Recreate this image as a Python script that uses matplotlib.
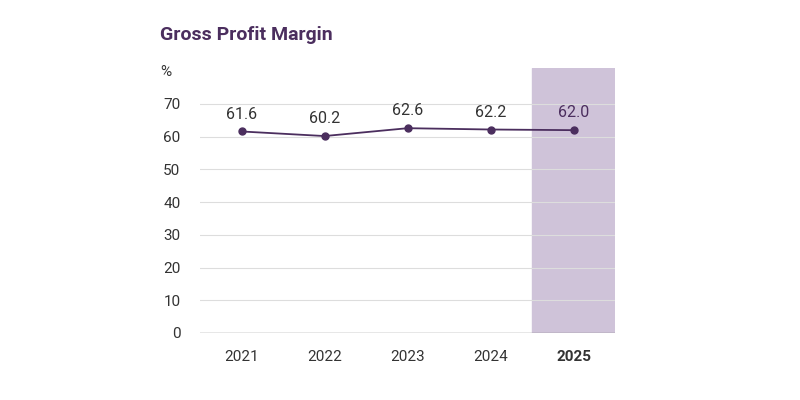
import matplotlib
matplotlib.use("Agg")
import matplotlib.pyplot as plt

years = ["2021", "2022", "2023", "2024", "2025"]
margin = [61.6, 60.2, 62.6, 62.2, 62.0]
yticks = [0, 10, 20, 30, 40, 50, 60, 70]

plt.rcParams['font.family'] = ['Roboto', 'DejaVu Sans']
fig = plt.figure(figsize=(8, 4), dpi=100)
ax = fig.add_axes([0.25, 0.1675, 0.519, 0.6625])
x = list(range(len(years)))
ax.axvspan(x[-1] - 0.5, x[-1] + 0.5, color="#cfc3d9", zorder=0)
for t in yticks[1:]:
    ax.axhline(t, color="#dddddd", lw=0.8, zorder=1)
ax.axhline(0, color="#888888", lw=1, zorder=1)
ax.plot(x, margin, color="#4b2e5e", lw=1.3, marker="o", ms=5, zorder=3)
for xi, v in zip(x, margin):
    ax.text(xi, v + 3, f"{v:.1f}", ha="center", va="bottom", fontsize=11.5,
            color="#333333" if xi < 4 else "#4b2e5e")
ax.set_xlim(-0.5, 4.5)
ax.set_ylim(0, 81)
ax.set_yticks(yticks)
ax.set_xticks(x)
ax.set_xticklabels(years, fontsize=11, color="#333333")
ax.get_xticklabels()[-1].set_fontweight("bold")
ax.tick_params(axis="y", labelsize=11, colors="#333333", length=0, pad=14)
ax.tick_params(axis="x", length=0, pad=12)
for s in ax.spines.values():
    s.set_visible(False)
fig.text(0.2, 0.9, "Gross Profit Margin", fontsize=14, fontweight="bold", color="#4b2e5e")
fig.text(0.2, 0.81, "%", fontsize=11, color="#333333")
fig.savefig("out.png", dpi=100)
